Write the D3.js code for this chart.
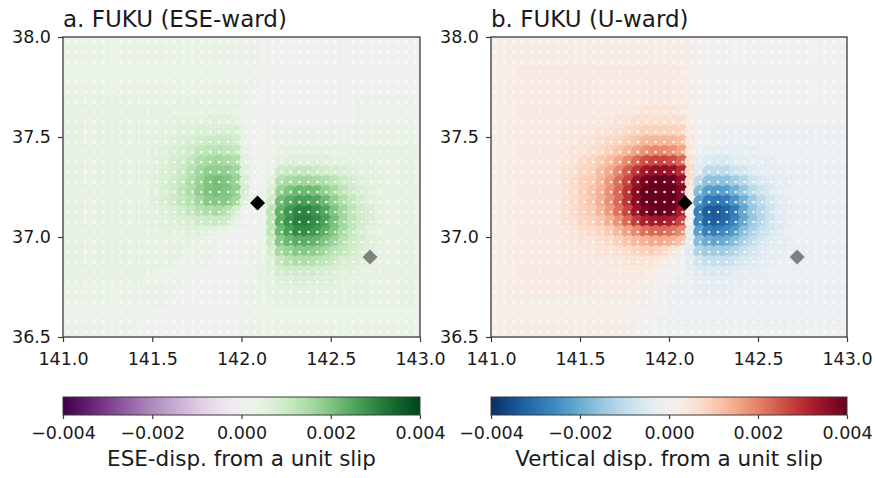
<!DOCTYPE html>
<html>
<head>
<meta charset="utf-8">
<script src="https://cdn.jsdelivr.net/npm/d3@7"></script>
<style>
  body { margin: 0; background: #fff; }
  svg { display: block; }
  text { font-family: "DejaVu Sans", sans-serif; fill: #1a1a1a; }
</style>
</head>
<body>
<svg id="fig" width="875" height="478"></svg>
<script>
// Grid node centres (degrees)
const gridLon = [
  141.025,141.075,141.125,141.175,141.225,141.275,141.325,141.375,141.425,141.475,
  141.525,141.575,141.625,141.675,141.725,141.775,141.825,141.875,141.925,141.975,
  142.025,142.075,142.125,142.175,142.225,142.275,142.325,142.375,142.425,142.475,
  142.525,142.575,142.625,142.675,142.725,142.775,142.825,142.875,142.925,142.975
];
const gridLat = [
  37.975,37.925,37.875,37.825,37.775,37.725,37.675,37.625,37.575,37.525,
  37.475,37.425,37.375,37.325,37.275,37.225,37.175,37.125,37.075,37.025,
  36.975,36.925,36.875,36.825,36.775,36.725,36.675,36.625,36.575,36.525
];

// Displacement per unit slip, in units of 1e-4; one row per latitude (north first)
const eseDisp = [
  [3,3,3,3,3,3,3,3,3,3, 3,3,3,3,3,3,3,3,3,2, 2,2,1,1,1,1,1,1,1,1, 1,1,1,1,1,1,1,1,1,1],
  [3,3,3,3,3,3,3,3,3,3, 3,3,3,3,3,3,3,3,3,2, 2,2,1,1,1,1,1,1,1,1, 1,1,1,1,1,1,1,1,1,1],
  [3,3,3,3,3,3,3,3,3,3, 3,3,3,3,3,3,3,3,3,2, 2,2,1,1,1,1,1,1,1,1, 1,1,1,1,1,1,1,1,1,1],
  [3,3,3,3,3,3,3,3,3,3, 3,3,3,3,3,3,3,3,3,2, 2,2,1,1,1,1,1,1,1,1, 1,1,1,1,1,1,1,1,1,1],
  [3,3,3,3,3,3,3,3,3,3, 3,3,3,3,3,3,3,3,3,3, 2,2,1,1,1,1,1,1,1,1, 1,1,1,1,1,1,1,1,1,1],
  [3,3,3,3,3,3,3,3,3,3, 3,3,3,3,3,3,3,3,3,3, 2,1,1,1,1,1,1,1,1,1, 1,1,1,1,1,1,1,1,1,1],
  [4,4,4,4,4,4,4,4,4,4, 4,4,4,4,4,4,4,4,4,4, 2,1,1,1,1,1,1,1,1,1, 1,1,1,2,2,2,2,2,2,2],
  [4,4,4,4,4,4,4,4,4,4, 4,4,4,4,4,4,4,4,4,4, 2,1,1,1,1,1,1,1,1,1, 1,1,1,2,2,2,2,2,2,2],
  [4,4,4,4,4,4,4,4,4,4, 4,4,5,5,5,5,6,6,6,5, 2,1,1,1,1,1,1,1,1,1, 1,1,1,2,2,2,2,2,2,2],
  [4,4,4,4,4,4,4,4,4,4, 4,5,5,6,6,7,7,7,7,7, 2,0,1,2,2,2,2,2,2,2, 2,2,2,3,3,3,3,3,3,3],
  [4,4,4,4,4,4,4,4,4,4, 5,5,6,7,8,9,10,10,10,9, 3,0,1,2,2,2,2,2,2,2, 2,2,2,3,3,3,3,3,3,3],
  [4,4,4,4,4,4,4,4,4,4, 5,6,7,8,9,11,12,13,12,11, 4,0,1,2,4,4,4,4,4,4, 4,4,4,4,4,4,4,4,4,4],
  [4,4,4,4,4,4,4,4,4,4, 5,6,8,9,11,14,15,16,15,14, 5,0,1,2,5,6,6,6,6,6, 5,5,4,4,4,4,4,4,4,4],
  [4,4,4,4,4,4,4,4,4,4, 5,7,8,10,13,16,18,18,18,16, 6,0,1,3,9,10,11,11,10,9, 8,7,6,5,5,4,4,4,4,4],
  [4,4,4,4,4,4,4,4,4,4, 6,7,9,11,14,17,20,21,20,17, 7,0,1,5,13,15,16,16,15,14, 12,10,8,6,5,5,4,4,4,4],
  [4,4,4,4,4,4,4,4,4,4, 6,7,9,12,14,18,20,21,20,18, 8,0,2,7,17,20,22,22,21,18, 15,12,9,7,6,5,4,4,4,4],
  [4,4,4,4,4,4,4,4,4,4, 6,7,9,11,13,16,19,19,19,16, 6,0,2,9,21,24,26,26,25,22, 18,14,11,8,6,5,4,4,4,4],
  [4,4,4,4,4,4,4,4,4,4, 5,6,7,9,11,13,14,15,13,8, 1,0,3,12,23,27,30,30,28,25, 20,16,12,9,7,5,4,4,4,4],
  [4,4,4,4,4,4,4,4,4,4, 5,5,6,7,8,9,10,10,9,4, 1,0,2,12,24,28,31,31,29,26, 21,16,12,9,7,5,4,4,4,4],
  [4,4,4,4,4,4,4,4,4,4, 4,5,5,5,6,6,5,4,2,0, 0,1,3,12,22,26,29,29,27,24, 20,15,11,8,6,5,4,4,4,4],
  [4,4,4,4,4,4,4,4,4,4, 4,4,4,4,4,4,3,2,1,0, 0,1,3,10,19,22,24,24,23,20, 17,13,10,8,6,5,4,4,4,4],
  [4,4,4,4,4,4,4,4,4,4, 4,4,4,4,3,3,2,1,0,0, 1,2,3,8,15,17,19,19,18,16, 13,11,9,7,5,4,4,4,4,4],
  [4,4,4,4,4,4,4,4,4,4, 4,4,4,3,3,2,2,1,0,0, 1,2,3,6,11,13,14,14,13,12, 10,8,7,6,5,4,4,4,4,4],
  [4,4,4,4,4,4,4,4,4,4, 4,3,3,2,2,1,1,0,0,1, 2,3,4,6,8,9,9,9,9,8, 7,6,6,5,4,4,4,4,4,4],
  [4,4,4,4,4,4,4,4,4,3, 3,3,2,2,1,1,0,0,0,1, 2,3,4,4,6,6,7,7,6,6, 6,5,4,4,4,4,4,4,4,4],
  [3,3,3,3,3,3,3,3,3,3, 2,2,2,1,1,1,0,0,1,1, 2,3,3,4,5,5,5,5,5,5, 4,4,4,4,4,4,4,4,4,4],
  [3,3,3,3,3,3,3,3,2,2, 2,2,1,1,1,0,0,0,1,1, 2,3,3,4,4,4,4,4,4,4, 4,4,4,4,4,4,4,4,4,4],
  [2,2,2,2,2,2,2,2,2,2, 1,1,1,1,0,0,0,0,1,1, 2,2,3,3,3,3,3,3,3,3, 3,3,3,3,3,3,3,3,3,3],
  [2,2,2,2,2,2,2,2,2,1, 1,1,1,0,0,0,0,0,1,1, 2,2,3,3,3,3,3,3,3,3, 3,3,3,3,3,3,3,3,3,3],
  [2,2,2,2,2,2,2,2,1,1, 1,1,1,0,0,0,0,0,1,1, 2,2,3,3,3,3,3,3,3,3, 3,3,3,3,3,3,3,3,3,3]
];

const upDisp = [
  [2,2,2,2,2,2,2,2,2,2, 2,2,2,2,2,2,2,2,2,2, 2,2,1,0,-1,-1,-1,-1,-1,-1, -1,-1,-1,-1,-1,-1,-1,-1,-1,-1],
  [2,2,2,2,2,2,2,2,2,2, 2,2,2,2,2,2,2,2,2,2, 2,2,1,0,-1,-1,-1,-1,-1,-1, -1,-1,-1,-1,-1,-1,-1,-1,-1,-1],
  [2,2,2,2,2,2,2,2,2,2, 2,2,2,2,2,2,2,2,2,2, 2,2,1,0,-1,-1,-1,-1,-1,-1, -1,-1,-1,-1,-1,-1,-1,-1,-1,-1],
  [2,2,2,3,3,3,3,3,3,3, 3,3,3,3,3,3,3,3,3,3, 3,3,1,0,-1,-1,-1,-1,-1,-1, -1,-1,-1,-1,-1,-1,-1,-1,-1,-1],
  [2,2,2,3,3,3,3,3,3,3, 3,3,3,3,3,3,3,3,3,3, 3,3,1,0,-1,-1,-1,-1,-1,-1, -1,-1,-1,-1,-1,-1,-1,-1,-1,-1],
  [2,2,2,3,3,3,3,3,3,3, 3,3,3,3,3,3,3,3,3,3, 3,3,1,0,-1,-1,-1,-1,-1,-1, -1,-1,-1,-1,-1,-1,-1,-1,-1,-1],
  [2,2,2,3,3,3,3,3,3,3, 3,3,3,3,3,3,3,3,3,3, 3,3,1,0,-1,-1,-1,-1,-1,-1, -1,-1,-1,-1,-1,-1,-1,-1,-1,-1],
  [2,2,2,3,3,3,3,3,3,3, 3,3,3,3,4,4,4,5,5,5, 5,4,1,0,-1,-1,-1,-1,-1,-1, -1,-1,-1,-1,-1,-1,-1,-1,-1,-1],
  [2,2,2,3,3,3,3,3,3,3, 3,4,4,4,5,5,6,6,6,6, 6,6,2,0,-1,-1,-1,-1,-1,-1, -1,-1,-1,-1,-1,-1,-1,-1,-1,-1],
  [2,2,2,3,3,3,3,3,3,4, 4,4,5,5,6,7,8,9,9,9, 9,8,3,0,-1,-2,-2,-2,-2,-2, -2,-2,-2,-2,-2,-2,-2,-2,-2,-2],
  [2,2,2,3,3,3,3,3,4,4, 5,5,6,7,8,10,11,13,13,13, 13,12,4,0,-1,-2,-2,-2,-2,-2, -2,-2,-2,-2,-2,-2,-2,-2,-2,-2],
  [2,2,2,3,3,3,3,3,4,5, 5,6,7,9,11,13,16,18,19,19, 18,16,4,-1,-3,-4,-4,-3,-3,-3, -2,-2,-2,-2,-2,-2,-2,-2,-2,-2],
  [2,2,2,3,3,3,3,3,4,5, 7,8,10,12,15,19,23,26,27,27, 26,23,6,-3,-5,-6,-6,-5,-4,-4, -3,-3,-2,-2,-2,-2,-2,-2,-2,-2],
  [2,2,2,3,3,3,3,3,5,6, 8,9,12,15,19,24,29,33,35,35, 34,30,7,-5,-10,-10,-10,-8,-7,-5, -4,-3,-3,-2,-2,-2,-2,-2,-2,-2],
  [2,2,2,3,3,3,3,3,5,7, 9,10,13,17,22,27,34,38,40,40, 39,35,6,-10,-16,-16,-16,-14,-11,-8, -6,-5,-3,-3,-2,-2,-2,-2,-2,-2],
  [2,2,2,3,3,3,3,3,5,7, 9,11,14,18,23,29,36,40,40,40, 40,37,4,-17,-22,-23,-22,-19,-15,-11, -8,-6,-4,-3,-2,-2,-2,-2,-2,-2],
  [2,2,2,3,3,3,3,3,5,7, 9,11,14,18,23,29,36,40,40,40, 40,37,2,-22,-28,-29,-28,-24,-19,-14, -10,-7,-5,-3,-2,-2,-2,-2,-2,-2],
  [2,2,2,3,3,3,3,3,5,7, 9,10,13,17,22,27,34,38,40,40, 39,33,0,-27,-33,-34,-32,-28,-21,-15, -11,-8,-5,-4,-2,-2,-2,-2,-2,-2],
  [2,2,2,3,3,3,3,3,5,6, 8,9,11,14,18,23,28,32,33,33, 32,27,-1,-26,-32,-33,-31,-27,-21,-15, -11,-8,-5,-4,-2,-2,-2,-2,-2,-2],
  [2,2,2,3,3,3,3,3,4,5, 6,7,8,10,13,16,19,22,23,23, 22,19,-3,-22,-27,-28,-26,-23,-17,-13, -9,-7,-5,-3,-2,-2,-2,-2,-2,-2],
  [2,2,2,3,3,3,3,3,4,4, 5,5,6,7,9,11,13,14,15,15, 14,11,-3,-17,-20,-21,-20,-17,-13,-10, -7,-5,-4,-3,-2,-2,-2,-2,-2,-2],
  [2,2,2,3,3,3,3,3,3,3, 4,4,5,5,6,7,8,9,9,8, 5,1,-5,-12,-14,-14,-14,-12,-9,-7, -5,-4,-3,-2,-2,-2,-2,-2,-2,-2],
  [2,2,2,3,3,3,3,3,3,3, 3,3,3,3,4,5,5,5,5,3, 1,-1,-4,-7,-9,-9,-9,-8,-6,-5, -4,-3,-2,-2,-2,-2,-2,-2,-2,-2],
  [2,2,2,3,3,3,3,3,3,3, 3,3,3,3,3,4,4,4,3,1, 0,-1,-3,-5,-6,-6,-6,-5,-4,-4, -3,-2,-2,-2,-2,-2,-2,-2,-2,-2],
  [2,2,2,3,3,3,3,3,3,3, 3,3,3,3,3,3,3,2,1,0, -1,-2,-2,-3,-4,-4,-4,-3,-3,-2, -2,-2,-2,-2,-2,-2,-2,-2,-2,-2],
  [2,2,2,3,3,3,3,3,3,3, 3,3,3,3,3,3,2,1,0,-1, -2,-2,-2,-3,-3,-3,-3,-3,-2,-2, -2,-2,-2,-2,-2,-2,-2,-2,-2,-2],
  [2,2,2,2,2,2,2,2,2,2, 2,2,2,2,2,2,1,1,0,-1, -2,-2,-2,-2,-2,-2,-2,-2,-2,-2, -2,-2,-2,-2,-2,-2,-2,-2,-2,-2],
  [2,2,2,2,2,2,2,2,2,2, 2,2,2,2,2,1,1,0,0,-1, -2,-2,-2,-2,-2,-2,-2,-2,-2,-2, -2,-2,-2,-2,-2,-2,-2,-2,-2,-2],
  [2,2,2,2,2,2,2,2,2,2, 2,2,2,2,2,1,1,0,-1,-2, -2,-2,-2,-2,-2,-2,-2,-2,-2,-2, -2,-2,-2,-2,-2,-2,-2,-2,-2,-2],
  [2,2,2,2,2,2,2,2,2,2, 2,2,2,2,1,1,0,0,-1,-1, -1,-1,-1,-1,-1,-1,-1,-1,-1,-1, -1,-1,-1,-1,-1,-1,-1,-1,-1,-1]
];
const dispUnit = 1e-4;

// Station markers
const stationLon = [142.09, 142.72];
const stationLat = [37.17, 36.90];
const stationColor = ["#000000", "#808080"];

// Axis ticks
const lonTicks = [141.0, 141.5, 142.0, 142.5, 143.0];
const latTicks = [36.5, 37.0, 37.5, 38.0];
const cbarTicks = [-0.004, -0.002, 0.000, 0.002, 0.004];
const cbarRange = [-0.004, 0.004];

const panelTitles = ["a. FUKU (ESE-ward)", "b. FUKU (U-ward)"];
const cbarLabels = ["ESE-disp. from a unit slip", "Vertical disp. from a unit slip"];

const panels = [
  { title: panelTitles[0], label: cbarLabels[0], values: eseDisp,
    cmap: t => d3.interpolatePRGn(t), left: 63, right: 420 },
  { title: panelTitles[1], label: cbarLabels[1], values: upDisp,
    cmap: t => d3.interpolateRdBu(1 - t), left: 491, right: 847 }
];

const plotTop = 37, plotBottom = 337;
const cbarTop = 397, cbarBottom = 415;
const svg = d3.select("#fig");
const defs = svg.append("defs");
const fmt1 = d3.format(".1f");
const fmt3 = d3.format(".3f");

panels.forEach((p, k) => {
  const x = d3.scaleLinear().domain([141, 143]).range([p.left, p.right]);
  const y = d3.scaleLinear().domain([36.5, 38]).range([plotBottom, plotTop]);
  const norm = d3.scaleLinear().domain(cbarRange).range([0, 1]).clamp(true);
  const colorOf = v => p.cmap(norm(v));

  const cells = [];
  p.values.forEach((row, j) => row.forEach((v, i) => {
    cells.push({ lon: gridLon[i], lat: gridLat[j], v: v * dispUnit });
  }));

  const clipId = "plotclip" + k;
  defs.append("clipPath").attr("id", clipId).append("rect")
    .attr("x", p.left).attr("y", plotTop)
    .attr("width", p.right - p.left).attr("height", plotBottom - plotTop);

  const g = svg.append("g");
  const field = g.append("g").attr("clip-path", `url(#${clipId})`);

  // coloured markers at every grid node
  field.selectAll("circle.cell").data(cells).join("circle")
    .attr("class", "cell")
    .attr("cx", d => x(d.lon)).attr("cy", d => y(d.lat))
    .attr("r", 6.9)
    .attr("fill", d => colorOf(d.v));

  // small white node dots
  field.selectAll("circle.node").data(cells).join("circle")
    .attr("class", "node")
    .attr("cx", d => x(d.lon)).attr("cy", d => y(d.lat))
    .attr("r", 1.35)
    .attr("fill", "#ffffff").attr("fill-opacity", 0.85);

  // stations
  const diamond = d3.symbol().type(d3.symbolSquare).size(112);
  g.selectAll("path.station").data(stationLon.map((lon, s) => ({ lon, lat: stationLat[s], c: stationColor[s] })))
    .join("path").attr("class", "station")
    .attr("d", diamond)
    .attr("transform", d => `translate(${x(d.lon)},${y(d.lat)}) rotate(45)`)
    .attr("fill", d => d.c);

  // frame
  g.append("rect")
    .attr("x", p.left).attr("y", plotTop)
    .attr("width", p.right - p.left).attr("height", plotBottom - plotTop)
    .attr("fill", "none").attr("stroke", "#3a3a3a").attr("stroke-width", 1.3);

  // x axis
  const xAxis = g.append("g").attr("transform", `translate(0,${plotBottom})`)
    .call(d3.axisBottom(x).tickValues(lonTicks).tickFormat(fmt1).tickSize(5).tickSizeOuter(0));
  xAxis.select(".domain").remove();
  xAxis.selectAll(".tick line").attr("stroke", "#3a3a3a").attr("stroke-width", 1.2);
  xAxis.selectAll(".tick text").attr("y", 28).attr("dy", 0)
    .style("font-size", "17.5px").style("font-family", "DejaVu Sans").attr("fill", "#1a1a1a");

  // y axis
  const yAxis = g.append("g").attr("transform", `translate(${p.left},0)`)
    .call(d3.axisLeft(y).tickValues(latTicks).tickFormat(fmt1).tickSize(5).tickSizeOuter(0));
  yAxis.select(".domain").remove();
  yAxis.selectAll(".tick line").attr("stroke", "#3a3a3a").attr("stroke-width", 1.2);
  yAxis.selectAll(".tick text").attr("x", -12).attr("dy", 5)
    .style("font-size", "17.5px").style("font-family", "DejaVu Sans").attr("fill", "#1a1a1a");

  // title
  g.append("text").attr("x", p.left).attr("y", 27)
    .style("font-size", "23px").text(p.title);

  // colour bar
  const gradId = "cbar" + k;
  const grad = defs.append("linearGradient").attr("id", gradId)
    .attr("x1", "0%").attr("x2", "100%").attr("y1", "0%").attr("y2", "0%");
  d3.range(0, 1.0001, 0.02).forEach(t => {
    grad.append("stop").attr("offset", (t * 100) + "%").attr("stop-color", p.cmap(t));
  });
  g.append("rect")
    .attr("x", p.left).attr("y", cbarTop)
    .attr("width", p.right - p.left).attr("height", cbarBottom - cbarTop)
    .attr("fill", `url(#${gradId})`)
    .attr("stroke", "#3a3a3a").attr("stroke-width", 1);

  const cx = d3.scaleLinear().domain(cbarRange).range([p.left, p.right]);
  const cAxis = g.append("g").attr("transform", `translate(0,${cbarBottom})`)
    .call(d3.axisBottom(cx).tickValues(cbarTicks).tickFormat(fmt3).tickSize(4).tickSizeOuter(0));
  cAxis.select(".domain").remove();
  cAxis.selectAll(".tick line").attr("stroke", "#3a3a3a").attr("stroke-width", 1.2);
  cAxis.selectAll(".tick text").attr("y", 24).attr("dy", 0)
    .style("font-size", "17.5px").style("font-family", "DejaVu Sans").attr("fill", "#1a1a1a");

  g.append("text")
    .attr("x", (p.left + p.right) / 2).attr("y", 466)
    .attr("text-anchor", "middle")
    .style("font-size", "21.5px").text(p.label);
});
</script>
</body>
</html>
